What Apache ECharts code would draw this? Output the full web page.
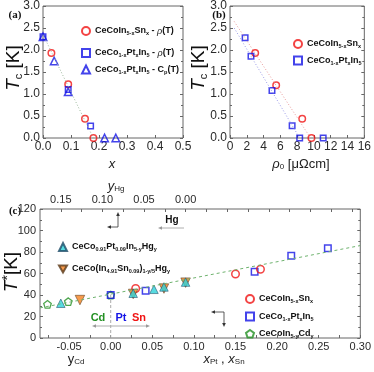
<!DOCTYPE html>
<html lang="en">
<head>
<meta charset="UTF-8">
<title>Tc and T* of doped CeCoIn5</title>
<script src="https://cdn.jsdelivr.net/npm/echarts@6/dist/echarts.min.js"></script>
<style>body{margin:0;background:#fff;}</style>
</head>
<body>
<div id="main" style="width:374px;height:372px;"></div>
<script>
// ---- (a) Tc vs x ----
var snX_a = [0.03, 0.09, 0.15, 0.18];
var snTc_a = [1.93, 1.22, 0.44, 0.0];
var ptX_rho = [0.0, 0.09, 0.17];
var ptTc_rho = [2.3, 1.1, 0.27];
var ptX_cp = [0.0, 0.04, 0.09, 0.22, 0.26];
var ptTc_cp = [2.3, 1.75, 1.05, 0.0, 0.0];
var fitX_a = [0.0, 0.18];
var fitTc_a = [2.35, 0.0];
// ---- (b) Tc vs rho0 ----
var snRho = [3.0, 5.5, 8.6, 9.7];
var snTc_b = [1.93, 1.2, 0.44, 0.0];
var ptRho = [1.8, 2.5, 5.0, 7.4, 8.3, 11.1];
var ptTc_b = [2.28, 1.86, 1.08, 0.28, 0.0, 0.0];
var fitSnRho = [0.5, 9.6], fitSnTc = [2.65, 0.0];
var fitPtRho = [0.5, 8.3], fitPtTc = [2.5, 0.0];
// ---- (c) T* ----
var snX_c = [0.03, 0.15, 0.18];
var snT_c = [46, 59.5, 64];
var ptX_c = [0.0, 0.042, 0.173, 0.217, 0.261];
var ptT_c = [40, 44, 61.7, 76.6, 83.4];
var cdX = [-0.076, -0.051, 0.0];
var cdT = [31.3, 33.8, 40];
var hgPtY = [0.15, 0.063, 0.038, 0.026, 0.0];
var hgPtT = [32.3, 41.6, 45.3, 47.5, 52];
var hgSnY = [0.127, 0.063, 0.026, 0.0];
var hgSnT = [35.3, 41, 46, 51.5];
var trendX = [-0.085, 0.30], trendT = [28, 86];
var refX = [0, 0], refT = [0, 40];
// tick labels
var xTicksC = [-0.05, 0, 0.05, 0.10, 0.15, 0.20, 0.25, 0.30];
var xMinorC = [-0.075, -0.05, -0.025, 0, 0.025, 0.05, 0.075, 0.1, 0.125, 0.15, 0.175, 0.2, 0.225, 0.25, 0.275, 0.3];
var hgTicks = [0, 0.05, 0.10, 0.15];
var hgMinor = [-0.2, -0.175, -0.15, -0.125, -0.1, -0.075, -0.05, -0.025, 0, 0.025, 0.05, 0.075, 0.1, 0.125, 0.15];

function pairs(xs, ys) {
    var out = [];
    for (var i = 0; i < xs.length; i++) out.push([xs[i], ys[i]]);
    return out;
}

var RED = '#f01414', BLUE = '#1414e6', GREEN = '#239023';
var CYAN = '#2dd2d8', ORANGE = '#f5821f';
var TXT = '#2a2a2a', AX = '#666';
var PENT = 'path://M0,-1 L0.951,-0.309 L0.588,0.809 L-0.588,0.809 L-0.951,-0.309 Z';
var DOWN = 'path://M0,0 L2,0 L1,1.73 Z';
var FONT = '"Liberation Sans", Arial, sans-serif';

var legendRich = {
    b: {fontFamily: FONT, fontWeight: 'bold', fontSize: 9, color: '#111'},
    s: {fontFamily: FONT, fontWeight: 'bold', fontSize: 5.5, color: '#111', verticalAlign: 'bottom', padding: [5, 0, 0, 0]},
    i: {fontFamily: FONT, fontStyle: 'italic', fontSize: 9, color: '#111'}
};
var labels = {
    a_sn: '{b|CeCoIn}{s|5-x}{b|Sn}{s|x}{b| - }{i|ρ}{b|(T)}',
    a_pt_rho: '{b|CeCo}{s|1-x}{b|Pt}{s|x}{b|In}{s|5}{b| - }{i|ρ}{b|(T)}',
    a_pt_cp: '{b|CeCo}{s|1-x}{b|Pt}{s|x}{b|In}{s|5}{b| - C}{s|p}{b|(T)}',
    b_sn: '{b|CeCoIn}{s|5-x}{b|Sn}{s|x}',
    b_pt: '{b|CeCo}{s|1-x}{b|Pt}{s|x}{b|In}{s|5}',
    c_sn: '{b|CeCoIn}{s|5-x}{b|Sn}{s|x}',
    c_pt: '{b|CeCo}{s|1-x}{b|Pt}{s|x}{b|In}{s|5}',
    c_cd: '{b|CeCoIn}{s|5-y}{b|Cd}{s|y}',
    c_hgpt: '{b|CeCo}{s|0.91}{b|Pt}{s|0.09}{b|In}{s|5-y}{b|Hg}{s|y}',
    c_hgsn: '{b|CeCo(In}{s|4.91}{b|Sn}{s|0.09}{b|)}{s|1-y/5}{b|Hg}{s|y}'
};
function legend(names, left, top, gap) {
    return {
        data: names, left: left, top: top, orient: 'vertical',
        itemWidth: 8, itemHeight: 8, itemGap: gap, selectedMode: false,
        formatter: function (n) { return labels[n]; },
        textStyle: {rich: legendRich}
    };
}

function hollow(color, w) {
    return {color: 'rgba(255,255,255,0)', borderColor: color, borderWidth: w || 1.5};
}

var noLine = {show: false, onZero: false};
var tick = {show: true, inside: true, length: 3, lineStyle: {color: AX}};
var minor = {show: true, splitNumber: 2, length: 2, lineStyle: {color: AX}};
var lbl = {color: TXT, fontFamily: FONT, fontSize: 12};
var lblC = {color: TXT, fontFamily: FONT, fontSize: 11};
function fix(d) { return function (v) { return v.toFixed(d); }; }

var option = {
    animation: false,
    backgroundColor: '#fff',
    grid: [
        {left: 43, top: 6, width: 140, height: 132, show: true, borderColor: AX, borderWidth: 1},
        {left: 230, top: 6, width: 137, height: 132, show: true, borderColor: AX, borderWidth: 1},
        {left: 40, top: 209, width: 322, height: 129, show: true, borderColor: AX, borderWidth: 1}
    ],
    xAxis: [
        {gridIndex: 0, type: 'value', min: 0, max: 0.5, interval: 0.1, axisLine: noLine,
            axisTick: tick, splitLine: {show: false}, axisLabel: Object.assign({margin: 3, formatter: fix(1)}, lbl)},
        {gridIndex: 1, type: 'value', min: 0, max: 16, interval: 2, axisLine: noLine,
            axisTick: tick, splitLine: {show: false}, axisLabel: Object.assign({margin: 3}, lbl)},
        {gridIndex: 2, type: 'value', min: -0.085, max: 0.30, axisLine: noLine,
            axisTick: Object.assign({customValues: xMinorC}, tick), splitLine: {show: false},
            axisLabel: Object.assign({margin: 3, customValues: xTicksC, formatter: fix(2)}, lblC)},
        {gridIndex: 2, type: 'value', position: 'top', inverse: true, min: -0.21, max: 0.175, axisLine: noLine,
            axisTick: Object.assign({customValues: hgMinor}, tick), splitLine: {show: false},
            axisLabel: Object.assign({margin: 4, customValues: hgTicks, formatter: fix(2)}, lblC)}
    ],
    yAxis: [
        {gridIndex: 0, type: 'value', min: 0, max: 3, interval: 0.5, axisLine: noLine, axisTick: tick,
            minorTick: minor, splitLine: {show: false}, axisLabel: Object.assign({margin: 3, formatter: fix(1)}, lbl)},
        {gridIndex: 1, type: 'value', min: 0, max: 3, interval: 0.5, axisLine: noLine, axisTick: tick,
            minorTick: minor, splitLine: {show: false}, axisLabel: Object.assign({margin: 3, formatter: fix(1)}, lbl)},
        {gridIndex: 2, type: 'value', min: 0, max: 120, interval: 20, axisLine: noLine, axisTick: tick,
            minorTick: minor, splitLine: {show: false}, axisLabel: Object.assign({margin: 4}, lblC)},
        {gridIndex: 0, type: 'value', position: 'right', min: 0, max: 3, interval: 0.5, axisLine: noLine,
            axisTick: tick, minorTick: minor, splitLine: {show: false}, axisLabel: {show: false}},
        {gridIndex: 1, type: 'value', position: 'right', min: 0, max: 3, interval: 0.5, axisLine: noLine,
            axisTick: tick, minorTick: minor, splitLine: {show: false}, axisLabel: {show: false}},
        {gridIndex: 2, type: 'value', position: 'right', min: 0, max: 120, interval: 20, axisLine: noLine,
            axisTick: tick, minorTick: minor, splitLine: {show: false}, axisLabel: {show: false}}
    ],
    legend: [
        legend(['a_sn'], 76, 21, 6),
        legend(['a_pt_rho', 'a_pt_cp'], 76, 43, 6),
        legend(['b_sn', 'b_pt'], 288, 34, 6),
        legend(['c_hgpt', {name: 'c_hgsn', icon: DOWN}], 53, 237, 12),
        legend(['c_sn', 'c_pt', 'c_cd'], 240, 289, 7)
    ],
    series: [
        // (a)
        {type: 'line', xAxisIndex: 0, yAxisIndex: 0, data: pairs(fitX_a, fitTc_a), symbol: 'none',
            lineStyle: {color: '#9cb89c', width: 1, type: [1, 2]}},
        {name: 'a_sn', type: 'scatter', xAxisIndex: 0, yAxisIndex: 0, data: pairs(snX_a, snTc_a),
            symbol: 'circle', symbolSize: 6.5, itemStyle: hollow(RED)},
        {name: 'a_pt_rho', type: 'scatter', xAxisIndex: 0, yAxisIndex: 0, data: pairs(ptX_rho, ptTc_rho),
            symbol: 'rect', symbolSize: 5.5, itemStyle: hollow(BLUE)},
        {name: 'a_pt_cp', type: 'scatter', xAxisIndex: 0, yAxisIndex: 0, data: pairs(ptX_cp, ptTc_cp),
            symbol: 'triangle', symbolSize: 7.5, itemStyle: hollow(BLUE)},
        // (b)
        {type: 'line', xAxisIndex: 1, yAxisIndex: 1, data: pairs(fitSnRho, fitSnTc), symbol: 'none',
            lineStyle: {color: '#e89a9a', width: 1, type: [1, 2]}},
        {type: 'line', xAxisIndex: 1, yAxisIndex: 1, data: pairs(fitPtRho, fitPtTc), symbol: 'none',
            lineStyle: {color: '#9a9ae8', width: 1, type: [1, 2]}},
        {name: 'b_sn', type: 'scatter', xAxisIndex: 1, yAxisIndex: 1, data: pairs(snRho, snTc_b),
            symbol: 'circle', symbolSize: 6.5, itemStyle: hollow(RED)},
        {name: 'b_pt', type: 'scatter', xAxisIndex: 1, yAxisIndex: 1, data: pairs(ptRho, ptTc_b),
            symbol: 'rect', symbolSize: 5.5, itemStyle: hollow(BLUE)},
        // (c)
        {type: 'line', xAxisIndex: 2, yAxisIndex: 2, data: pairs(trendX, trendT), symbol: 'none',
            lineStyle: {color: '#6fb36f', width: 1, type: [3, 3]}},
        {type: 'line', xAxisIndex: 2, yAxisIndex: 2, data: pairs(refX, refT), symbol: 'none',
            lineStyle: {color: '#aaa', width: 1, type: [3, 2]}},
        {name: 'c_cd', type: 'scatter', xAxisIndex: 2, yAxisIndex: 2, data: pairs(cdX, cdT),
            symbol: PENT, symbolSize: 7.5, itemStyle: hollow(GREEN, 1.3)},
        {name: 'c_pt', type: 'scatter', xAxisIndex: 2, yAxisIndex: 2, data: pairs(ptX_c, ptT_c),
            symbol: 'rect', symbolSize: 6.5, itemStyle: hollow(BLUE)},
        {name: 'c_sn', type: 'scatter', xAxisIndex: 2, yAxisIndex: 2, data: pairs(snX_c, snT_c),
            symbol: 'circle', symbolSize: 7.5, itemStyle: hollow(RED)},
        {name: 'c_hgsn', type: 'scatter', xAxisIndex: 3, yAxisIndex: 2, data: pairs(hgSnY, hgSnT),
            symbol: 'triangle', symbolRotate: 180, symbolSize: 9.5,
            itemStyle: {color: ORANGE, borderColor: '#5a3a1a', borderWidth: 0.7}},
        {name: 'c_hgpt', type: 'scatter', xAxisIndex: 3, yAxisIndex: 2, data: pairs(hgPtY, hgPtT),
            symbol: 'triangle', symbolSize: 8.5,
            itemStyle: {color: CYAN, borderColor: '#1d4a66', borderWidth: 0.7}}
    ],
    graphic: []
};

// ---- texts and annotation arrows ----
var g = option.graphic;
var titleRich = {
    i: {fontFamily: FONT, fontStyle: 'italic', fontSize: 19, fill: '#111'},
    n: {fontFamily: FONT, fontSize: 19, fill: '#111'},
    s: {fontFamily: FONT, fontSize: 11, fill: '#111', verticalAlign: 'bottom', padding: [9, 0, 0, 0]},
    sup: {fontFamily: FONT, fontSize: 14, fill: '#111', verticalAlign: 'top', padding: [0, 0, 7, 0]}
};
var smallRich = {
    i: {fontFamily: FONT, fontStyle: 'italic', fontSize: 13, fill: '#222'},
    n: {fontFamily: FONT, fontSize: 13, fill: '#222'},
    s: {fontFamily: FONT, fontSize: 8, fill: '#222', verticalAlign: 'bottom', padding: [6, 0, 0, 0]}
};
function text(x, y, str, rich, rot) {
    g.push({type: 'text', x: x, y: y, rotation: rot || 0,
        style: {text: str, rich: rich, align: 'center', verticalAlign: 'middle'}});
}
function plain(x, y, str, size, color, weight, family) {
    g.push({type: 'text', x: x, y: y,
        style: {text: str, fill: color, fontSize: size, fontWeight: weight || 'normal',
            fontFamily: family || FONT, align: 'center', verticalAlign: 'middle'}});
}
function head(x, y, dir, color) {
    var a = 4, b = 1.8, p;
    if (dir === 'left') p = [[x, y], [x + a, y - b], [x + a, y + b]];
    if (dir === 'right') p = [[x, y], [x - a, y - b], [x - a, y + b]];
    if (dir === 'up') p = [[x, y], [x - b, y + a], [x + b, y + a]];
    if (dir === 'down') p = [[x, y], [x - b, y - a], [x + b, y - a]];
    g.push({type: 'polygon', shape: {points: p}, style: {fill: color}});
}
function poly(pts, color) {
    g.push({type: 'polyline', shape: {points: pts}, style: {stroke: color, lineWidth: 0.8, fill: null}});
}

plain(15, 15, '(a)', 11, '#111', 'bold', '"Liberation Serif", serif');
plain(219, 15, '(b)', 11, '#111', 'bold', '"Liberation Serif", serif');
plain(15, 211, '(c)', 11, '#111', 'bold', '"Liberation Serif", serif');

text(14, 68, '{i|T}{s|c}{n| [K]}', titleRich, Math.PI / 2);
text(199, 68, '{i|T}{s|c}{n| [K]}', titleRich, Math.PI / 2);
text(12, 272, '{i|T}{sup|*}{n|[K]}', titleRich, Math.PI / 2);
text(112, 164, '{i|x}', smallRich);
text(301, 164, '{i|ρ}{s|0}{n| [μΩcm]}', smallRich);
text(116, 186, '{i|y}{s|Hg}', smallRich);
text(76, 359, '{n|y}{s|Cd}', smallRich);
text(224, 359, '{i|x}{s|Pt}{n| , }{i|x}{s|Sn}', smallRich);

plain(172, 220, 'Hg', 10, '#111', 'bold');
poly([[160, 228], [184, 228]], '#999');
head(158, 228, 'left', '#999');

poly([[109, 227], [118, 227], [118, 215]], '#333');
head(107, 227, 'left', '#333');
head(118, 212, 'up', '#333');

poly([[213, 312], [224, 312], [224, 324]], '#333');
head(211, 312, 'left', '#333');
head(224, 327, 'down', '#333');

plain(98, 318, 'Cd', 11, GREEN, 'bold');
plain(121, 318, 'Pt', 11, BLUE, 'bold');
plain(139, 318, 'Sn', 11, RED, 'bold');
poly([[94, 326], [148, 326]], '#999');
head(92, 326, 'left', '#999');
head(150, 326, 'right', '#999');

var myChart = echarts.init(document.getElementById('main'));
myChart.setOption(option);
</script>
</body>
</html>
